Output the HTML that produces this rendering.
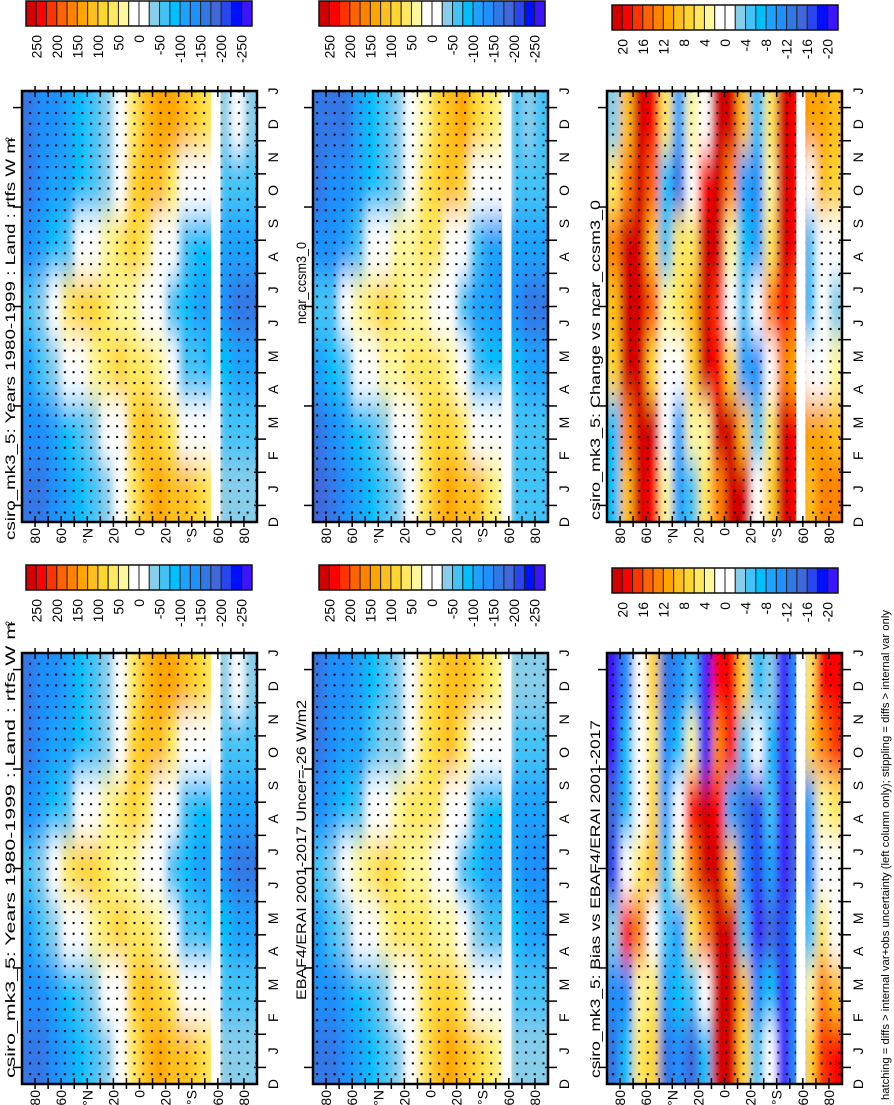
<!DOCTYPE html>
<html><head><meta charset="utf-8"><style>
html,body{margin:0;padding:0;background:#fff;}
svg{display:block;font-family:"Liberation Sans",Arial,sans-serif;}
</style></head><body>
<svg id="fig" width="894" height="1105" viewBox="0 0 894 1105" xmlns="http://www.w3.org/2000/svg">
<defs>
<pattern id="stip" patternUnits="userSpaceOnUse" width="8.7" height="10.8"><rect x="3" y="4" width="2" height="2" fill="#000"/></pattern>
<filter id="soft" x="-30%" y="-30%" width="160%" height="160%"><feGaussianBlur stdDeviation="4 16"/></filter>
</defs>
</svg>
<script>
// ---- data (rows bottom->top: Dec-Jan, Feb-Mar, Apr-May, Jun-Jul, Aug-Sep, Oct-Nov, Dec-Jan) ----
const latBandsTop = [90,80,70,60,50,40,30,20,10,0,-10,-20,-30,-40,-50,-60,-70,-80];
const monthLabels = ['D','J','F','M','A','M','J','J','A','S','O','N','D','J'];
const rtfsTicks = ['250','200','150','100','50','0','-50','-100','-150','-200','-250'];
const diffTicks = ['20','16','12','8','4','0','-4','-8','-12','-16','-20'];
const latTickLabels = ['80','60','°N','20','0','20','°S','60','80'];
const latTickValues = [80,60,40,20,0,-20,-40,-60,-80];
const gapLat = [-55,-62];

const csiroRtfs = [
 [-170,-150,-130,-110,-90,-60,-30,0,70,120,140,120,110,80,60,-40,-40,-40],
 [-140,-130,-100,-80,-70,-40,-10,0,80,110,100,60,20,0,0,-60,-60,-60],
 [-100,-70,-40,-10,10,50,60,80,70,60,30,0,-50,-70,-80,-90,-110,-110],
 [-60,-40,0,60,80,90,70,50,40,20,-10,-50,-90,-110,-120,-130,-150,-150],
 [-130,-110,-80,-50,-20,0,40,70,80,60,20,-20,-70,-90,-95,-100,-110,-110],
 [-160,-130,-120,-100,-80,-50,-30,0,80,110,120,70,10,0,0,-50,-60,-60],
 [-160,-140,-130,-110,-90,-70,-40,0,70,110,130,130,110,80,60,-40,-20,-40]
];
const ncarRtfs = [
 [-175,-160,-140,-115,-90,-60,-30,0,60,110,130,120,110,60,40,-50,-50,-50],
 [-150,-140,-110,-85,-70,-40,-10,0,60,100,100,60,20,0,0,-60,-70,-70],
 [-110,-90,-60,-20,10,50,50,60,60,60,30,0,-50,-80,-85,-95,-110,-110],
 [-70,-60,-20,40,70,80,60,30,30,20,-10,-50,-100,-120,-125,-135,-150,-150],
 [-140,-130,-100,-60,-20,0,40,50,60,60,20,-20,-70,-100,-100,-100,-110,-110],
 [-165,-145,-140,-110,-80,-50,-30,0,60,100,120,80,20,-20,-20,-50,-60,-60],
 [-170,-155,-150,-120,-90,-70,-40,0,50,100,120,130,100,60,40,-50,-40,-50]
];
const ebafRtfs = [
 [-165,-150,-130,-110,-90,-60,-30,0,60,110,130,110,100,70,50,-40,-40,-40],
 [-140,-130,-100,-80,-60,-30,-10,0,70,100,90,60,20,0,0,-60,-60,-60],
 [-100,-70,-40,-10,10,40,60,70,70,50,30,0,-40,-60,-70,-80,-110,-110],
 [-60,-40,0,50,70,80,70,50,40,20,-10,-50,-80,-100,-110,-120,-140,-140],
 [-130,-110,-80,-50,-20,0,30,60,70,60,20,-20,-60,-80,-90,-100,-110,-110],
 [-160,-130,-120,-100,-70,-40,-30,0,70,100,110,70,10,0,0,-50,-60,-60],
 [-160,-140,-130,-110,-90,-60,-40,0,60,100,120,120,100,70,50,-40,-40,-40]
];
const changeVals = [
 [-6,10,22,20,4,-8,-4,6,14,22,22,2,8,22,20,10,14,14],
 [-6,14,22,22,0,-8,4,4,22,22,10,-4,6,22,20,12,12,10],
 [8,22,22,8,0,2,8,22,20,8,-8,-10,0,14,12,2,2,4],
 [10,22,22,16,4,6,10,22,18,0,-4,2,14,20,16,-6,0,-2],
 [14,22,22,10,-4,6,6,22,22,4,-6,-8,6,22,20,-4,0,2],
 [6,14,22,16,-6,-12,2,20,22,14,-8,-10,4,22,20,2,10,8],
 [-2,10,22,20,6,-8,4,0,22,22,10,-6,6,22,20,12,12,10]
];
const biasVals = [
 [-12,-6,6,8,-12,-10,-14,-6,22,22,8,-4,2,-20,-10,8,18,20],
 [-10,-10,4,6,-8,-6,-4,2,22,22,10,-10,-6,-20,-10,4,14,10],
 [-2,20,14,2,-4,-8,6,14,22,22,-4,-20,-14,-16,-10,-4,6,0],
 [-16,0,6,10,-6,4,14,22,22,10,-10,-16,-8,-20,-14,-10,2,0],
 [-14,-6,0,8,-8,2,20,22,20,-8,-12,-16,-4,-20,-14,-8,4,6],
 [-20,-6,2,6,-10,-6,4,-18,14,20,-4,2,-6,-20,-10,8,14,18],
 [-20,-10,0,8,-12,-10,-4,-20,20,20,8,-6,-2,-20,-10,6,20,20]
];

const pal = ['#d40000','#ff0000','#ff3300','#ff6200','#ff8300','#ffa500','#ffbf1e','#ffd532','#ffe85e','#fff79c','#ffffff','#ffffff','#87ceeb','#42c3f7','#00bfff','#1ca3ff','#1e90ff','#3078e6','#4068dc','#2846f0','#0010ff','#3c14ff'];

const NS = 'http://www.w3.org/2000/svg';
const svg = document.getElementById('fig');
function mk(tag, attrs, parent){const e=document.createElementNS(NS,tag);for(const k in attrs)e.setAttribute(k,attrs[k]);(parent||svg).appendChild(e);return e;}

function colorFor(v, top, step){let k=Math.floor((top - v)/step);if(k<0)k=0;if(k>21)k=21;return pal[k];}

function colorbar(x, y, ticks, name){
  const g = mk('g',{});
  
  
  const bw = 226/22;
  for(let k=0;k<22;k++){
    const r = mk('rect',{x:x+k*bw,y:y,width:bw,height:25,fill:pal[k],stroke:'#222','stroke-width':1},g);
    
    
  }
  mk('rect',{x:x,y:y,width:226,height:25,fill:'none',stroke:'#111','stroke-width':1.5},g);
  ticks.forEach((t,i)=>{
    const tx = x + (2*i+1)*bw + 5;
    const ty = y + 34;
    const el = mk('text',{x:tx,y:ty,transform:`rotate(-90 ${tx} ${ty})`,'text-anchor':'end','font-size':14,fill:'#000'},g);
    el.textContent = t;
    
    
  });
}

function panel(px, py, data, top, step, name, title, t0, t1){
  const W=235, H=431;
  const X = lat => px + (90-lat)/180*W;
  const rowH = H/data.length;
  const g = mk('g',{});
  
  
  const cid = 'clip-'+name;
  const cp = mk('clipPath',{id:cid},g); mk('rect',{x:px,y:py,width:W,height:H},cp);
  const cg = mk('g',{'clip-path':`url(#${cid})`},g);
  const fg = mk('g',{filter:'url(#soft)'},cg);
  data.forEach((row,r)=>{
    row.forEach((v,i)=>{
      let x0 = X(latBandsTop[i]), x1 = X(latBandsTop[i]-10);
      let y1 = py + H - r*rowH, y0 = y1 - rowH;
      if(i===0) x0 -= 30; if(i===row.length-1) x1 += 30;
      if(r===0) y1 += 60; if(r===data.length-1) y0 -= 60;
      const c = mk('rect',{x:x0,y:y0,width:x1-x0+0.5,height:y1-y0+0.5,fill:colorFor(v,top,step)},fg);
      
      
    });
  });
  const st = mk('rect',{x:px,y:py,width:W,height:H,fill:'url(#stip)'},cg);
  
  
  const gm = mk('rect',{x:X(gapLat[0]),y:py,width:X(gapLat[1])-X(gapLat[0]),height:H,fill:'#fff'},cg);
  
  
  for(let lat=80;lat>=-80;lat-=10){
    const x=X(lat);
    mk('line',{x1:x,x2:x,y1:py-5,y2:py+6,stroke:'#000','stroke-width':1.5},g);
    mk('line',{x1:x,x2:x,y1:py+H-6,y2:py+H+5,stroke:'#000','stroke-width':1.5},g);
  }
  const mH = H/13;
  for(let i=0;i<13;i++){
    const y = py+H-(i+0.5)*mH;
    mk('line',{x1:px+W-3,x2:px+W+9,y1:y,y2:y,stroke:'#000','stroke-width':1.5},g);
    if(i%3===0) mk('line',{x1:px-9,x2:px,y1:y,y2:y,stroke:'#000','stroke-width':1.5},g);
  }
  mk('rect',{x:px,y:py,width:W,height:H,fill:'none',stroke:'#000','stroke-width':2.5},g);
  monthLabels.forEach((m,i)=>{
    const tx=px+W+21, ty=py+H-i*mH;
    const el=mk('text',{x:tx,y:ty,transform:`rotate(-90 ${tx} ${ty})`,'text-anchor':'middle','font-size':14},g);
    el.textContent=m;
    
    
  });
  latTickLabels.forEach((l,i)=>{
    const lat = latTickValues[i];
    const tx=X(lat)+5, ty=py+H+6;
    const el=mk('text',{x:tx,y:ty,transform:`rotate(-90 ${tx} ${ty})`,'text-anchor':'end','font-size':14},g);
    el.textContent=l;
    
    
  });
  const tx=px-7, ty=t1;
  const te=mk('text',{x:tx,y:ty,transform:`rotate(-90 ${tx} ${ty})`,'font-size':14,textLength:t1-t0,lengthAdjust:'spacingAndGlyphs'},g);
  te.textContent=title;
  
  
}

const T1 = 'csiro_mk3_5: Years 1980-1999 : Land : rtfs W m';
panel(22,91,csiroRtfs,275,25,'panel-csiro-top',T1,138,540);
panel(22,653,csiroRtfs,275,25,'panel-csiro-bottom',T1,622,1078);
panel(313,91,ncarRtfs,275,25,'panel-ncar','ncar_ccsm3_0',242,324);
panel(313,653,ebafRtfs,275,25,'panel-ebaf','EBAF4/ERAI 2001-2017 Uncer=-26 W/m2',700,1000);
panel(607,91,changeVals,22,2,'panel-change','csiro_mk3_5: Change vs ncar_ccsm3_0',200,520);
panel(607,653,biasVals,22,2,'panel-bias','csiro_mk3_5: Bias vs EBAF4/ERAI 2001-2017',720,1078);

[[22,138],[22,622]].forEach(p=>{
  const tx=p[0]-10, ty=p[1]-1;
  const s=mk('text',{x:tx,y:ty,transform:`rotate(-90 ${tx} ${ty})`,'font-size':9,'text-anchor':'end'});
  s.textContent='-2';
  
  
});

colorbar(26,1,rtfsTicks,'colorbar-rtfs-top-left');
colorbar(319,1,rtfsTicks,'colorbar-rtfs-top-middle');
colorbar(612,5,diffTicks,'colorbar-change');
colorbar(26,565,rtfsTicks,'colorbar-rtfs-bottom-left');
colorbar(319,565,rtfsTicks,'colorbar-rtfs-bottom-middle');
colorbar(612,568,diffTicks,'colorbar-bias');

const fx=889, fy=1100;
const foot=mk('text',{x:fx,y:fy,transform:`rotate(-90 ${fx} ${fy})`,'font-size':11,textLength:490,lengthAdjust:'spacingAndGlyphs'});
foot.textContent='hatching = diffs > internal var+obs uncertainty (left column only); stippling = diffs > internal var only';


</script>
</body></html>
